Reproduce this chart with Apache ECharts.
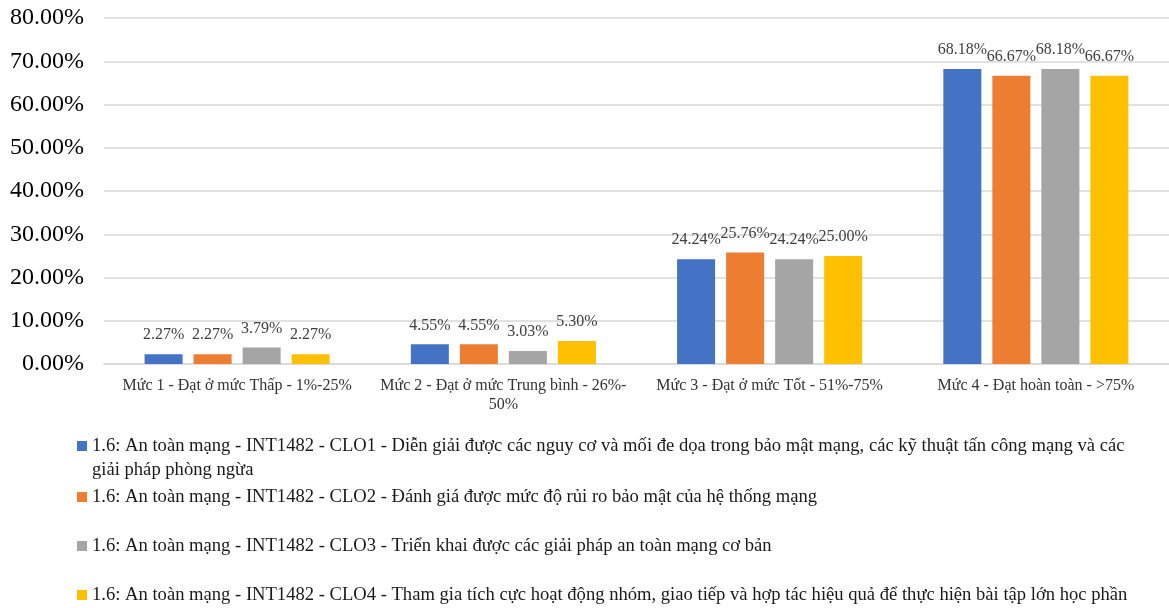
<!DOCTYPE html>
<html>
<head>
<meta charset="utf-8">
<script src="https://cdn.jsdelivr.net/npm/echarts@6/dist/echarts.min.js"></script>
<style>
  html, body { margin: 0; padding: 0; background: #fff; }
  #chart { width: 1169px; height: 608px; }
</style>
</head>
<body>
<div id="chart"></div>
<script>
var categories = [
  'Mức 1 - Đạt ở mức Thấp - 1%-25%',
  'Mức 2 - Đạt ở mức Trung bình - 26%-\n50%',
  'Mức 3 - Đạt ở mức Tốt - 51%-75%',
  'Mức 4 - Đạt hoàn toàn - >75%'
];
var seriesNames = [
  '1.6: An toàn mạng - INT1482 - CLO1 - Diễn giải được các nguy cơ và mối đe dọa trong bảo mật mạng, các kỹ thuật tấn công mạng và các giải pháp phòng ngừa',
  '1.6: An toàn mạng - INT1482 - CLO2 - Đánh giá được mức độ rủi ro bảo mật của hệ thống mạng',
  '1.6: An toàn mạng - INT1482 - CLO3 - Triển khai được các giải pháp an toàn mạng cơ bản',
  '1.6: An toàn mạng - INT1482 - CLO4 - Tham gia tích cực hoạt động nhóm, giao tiếp và hợp tác hiệu quả để thực hiện bài tập lớn học phần'
];
var clo1 = [2.27, 4.55, 24.24, 68.18];
var clo2 = [2.27, 4.55, 25.76, 66.67];
var clo3 = [3.79, 3.03, 24.24, 68.18];
var clo4 = [2.27, 5.30, 25.00, 66.67];
var colors = ['#4472C4', '#ED7D31', '#A5A5A5', '#FFC000'];

var font = '"Liberation Serif", "Times New Roman", serif';
var chart = echarts.init(document.getElementById('chart'));

var values = [clo1, clo2, clo3, clo4];
var series = values.map(function (d, i) {
  return {
    name: seriesNames[i],
    type: 'bar',
    data: d,
    barWidth: 38,
    barGap: '29%',
    itemStyle: { color: colors[i] },
    label: {
      show: true,
      position: 'top',
      distance: 11,
      formatter: function (p) { return p.value.toFixed(2) + '%'; },
      fontFamily: font,
      fontSize: 16,
      color: '#404040'
    }
  };
});

// legend 1 wraps onto two lines; a leading blank line keeps the icon on the first text line
function wrapFirst(s) {
  return '\n' + s.replace(' giải pháp phòng ngừa', '\ngiải pháp phòng ngừa');
}
var legendTops = [410, 485, 534, 583];
var legends = seriesNames.map(function (n, i) {
  return {
    data: [n],
    orient: 'vertical',
    left: 77,
    top: legendTops[i],
    padding: 0,
    itemWidth: 10,
    itemHeight: 10,
    icon: 'rect',
    formatter: i === 0 ? wrapFirst : '{name}',
    textStyle: {
      fontFamily: font,
      fontSize: 18.6,
      color: '#1a1a1a',
      lineHeight: 24
    }
  };
});

var option = {
  animation: false,
  color: colors,
  grid: { left: 104, right: 0, top: 18, bottom: 244, containLabel: false },
  legend: legends,
  xAxis: {
    type: 'category',
    data: categories,
    axisTick: { show: false },
    axisLine: { lineStyle: { color: '#d9d9d9', width: 1.5 } },
    axisLabel: {
      interval: 0,
      margin: 12,
      fontFamily: font,
      fontSize: 16,
      color: '#333',
      lineHeight: 19
    }
  },
  yAxis: {
    type: 'value',
    min: 0,
    max: 80,
    interval: 10,
    axisLine: { show: false },
    axisTick: { show: false },
    splitLine: { lineStyle: { color: '#d9d9d9', width: 1.5 } },
    axisLabel: {
      margin: 20,
      fontFamily: font,
      fontSize: 24,
      color: '#000',
      formatter: function (v) { return v.toFixed(2) + '%'; }
    }
  },
  series: series
};
chart.setOption(option);
</script>
</body>
</html>
